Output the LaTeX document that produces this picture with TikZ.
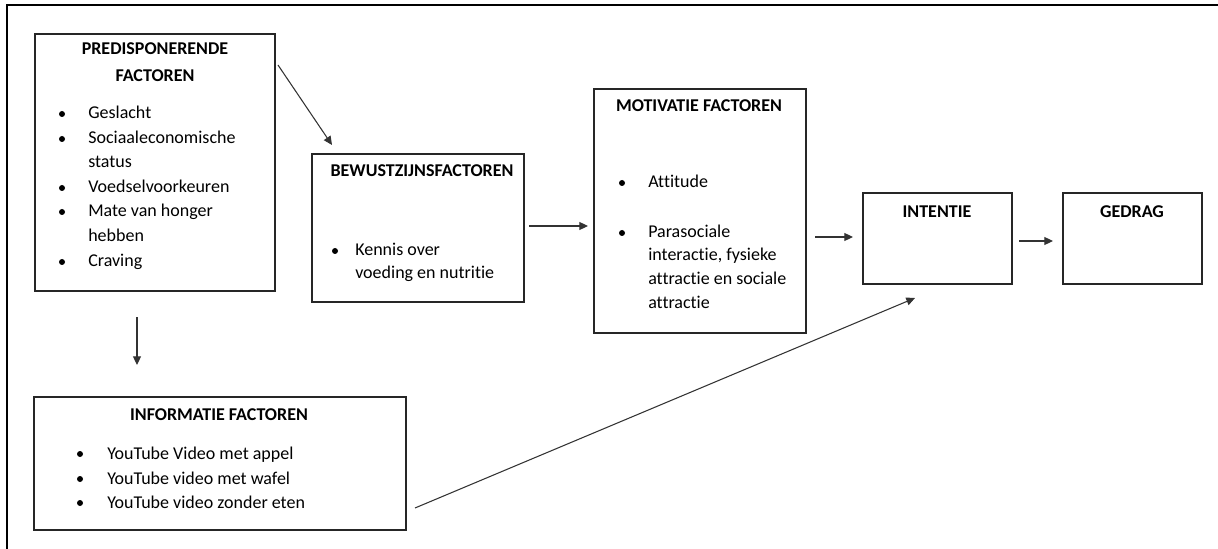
\documentclass[tikz,border=0pt]{standalone}
\usepackage{fontspec}
\setmainfont{Carlito}[Ligatures=NoCommon]
\usetikzlibrary{arrows.meta,fit}
\begin{document}
\begin{tikzpicture}[x=0.75pt,y=-0.75pt,
  box/.style={draw=black!85,line width=0.8pt,inner sep=0pt,rectangle},
  ttl/.style={font=\fontsize{13.5}{16}\selectfont\bfseries,inner sep=0pt,anchor=base},
  itm/.style={font=\fontsize{13.5}{16}\selectfont,inner sep=0pt,anchor=base west},
  arr/.style={draw=black!80,line width=0.8pt,-{Triangle[length=6.5pt,width=6pt]}}]
\useasboundingbox (0,0) rectangle (1218,549);
\draw[line width=1.6pt] (1218,5) -- (7,5) -- (7,549);
% boxes
\node[box,fit={(35,34) (275,291)}] (pre) {};
\node[box,fit={(312,154) (524,302)}] (bew) {};
\node[box,fit={(594,89) (806,333)}] (mot) {};
\node[box,fit={(863,193) (1012,284)}] (int) {};
\node[box,fit={(1063,193) (1202,284)}] (ged) {};
\node[box,fit={(34,397) (406,530)}] (inf) {};
% titles
\node[ttl] (preT1) at (155,55) {PREDISPONERENDE};
\node[ttl] (preT2) at (155,82) {FACTOREN};
\node[ttl] (bewT) at (422,177) {BEWUSTZIJNSFACTOREN};
\node[ttl] (motT) at (699,112) {MOTIVATIE FACTOREN};
\node[ttl] (intT) at (937,218) {INTENTIE};
\node[ttl] (gedT) at (1132,218) {GEDRAG};
\node[ttl] (infT) at (219,420) {INFORMATIE FACTOREN};
% predisponerende items
\foreach \t/\y/\b [count=\i] in {Geslacht/119/1,Sociaaleconomische/144/1,status/168/0,Voedselvoorkeuren/193/1,Mate van honger/217/1,hebben/242/0,Craving/267/1}{
  \node[itm] (preI\i) at (88,\y) {\t};
  \ifnum\b=1 \fill (62,\y-5) circle (3); \fi
}
% bewustzijn items
\node[itm] (bewI1) at (355,256) {Kennis over};
\node[itm] (bewI2) at (355,278) {voeding en nutritie};
\fill (335,251) circle (3);
% motivatie items
\node[itm] (motI1) at (648,188) {Attitude};
\fill (622,183) circle (3);
\node[itm] (motI2) at (648,238) {Parasociale};
\node[itm] (motI3) at (648,261) {interactie, fysieke};
\node[itm] (motI4) at (648,284) {attractie en sociale};
\node[itm] (motI5) at (648,308) {attractie};
\fill (622,233) circle (3);
% informatie items
\foreach \t/\y [count=\i] in {YouTube Video met appel/459,YouTube video met wafel/484,YouTube video zonder eten/508}{
  \node[itm] (infI\i) at (107,\y) {\t};
  \fill (80,\y-5) circle (3);
}
% connector end points
\coordinate (c1s) at (278,65);  \coordinate (c1e) at (332,145);
\coordinate (c2s) at (529,226); \coordinate (c2e) at (588,226);
\coordinate (c3s) at (815,237); \coordinate (c3e) at (853,237);
\coordinate (c4s) at (1019,241);\coordinate (c4e) at (1053,241);
\coordinate (c5s) at (137,317); \coordinate (c5e) at (137,365);
\coordinate (c6s) at (415,508); \coordinate (c6e) at (915,298);
\draw[arr] (c1s) -- (c1e);
\draw[arr] (c2s) -- (c2e);
\draw[arr] (c3s) -- (c3e);
\draw[arr] (c4s) -- (c4e);
\draw[arr] (c5s) -- (c5e);
\draw[arr] (c6s) -- (c6e);
\end{tikzpicture}
\end{document}
